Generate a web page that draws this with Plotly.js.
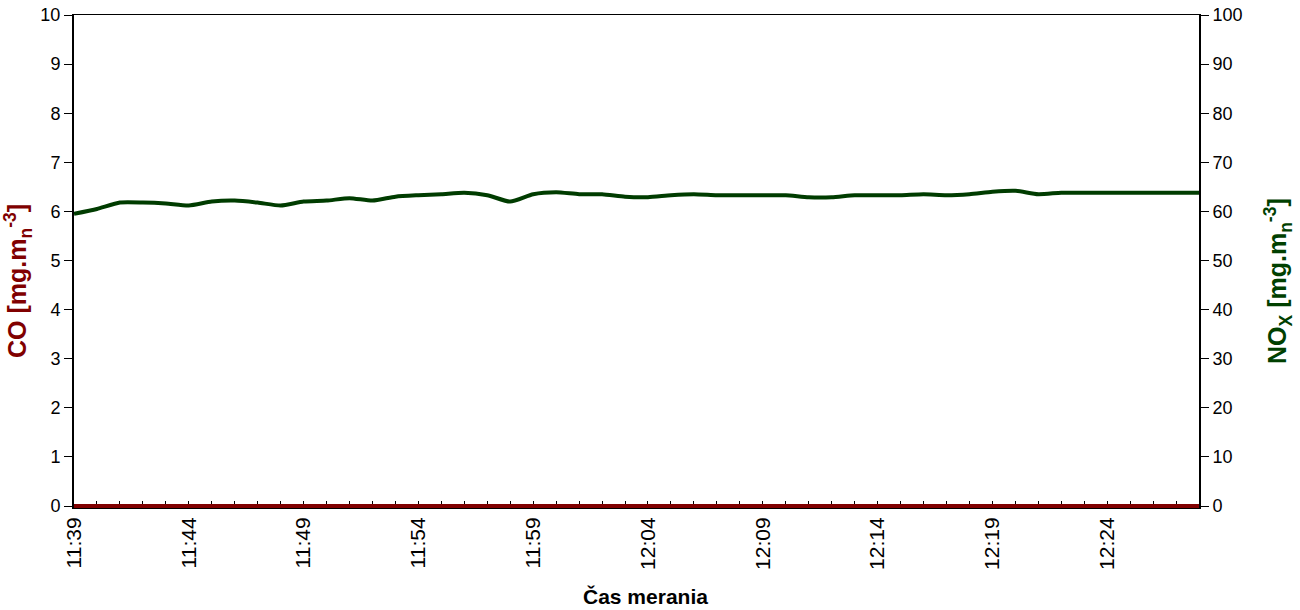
<!DOCTYPE html>
<html>
<head>
<meta charset="utf-8">
<script src="https://cdn.plot.ly/plotly-3.0.1.min.js"></script>
<style>html,body{margin:0;padding:0;background:#fff;}#chart{width:1300px;height:610px;}</style>
</head>
<body>
<div id="chart"></div>
<script>
var times = ["11:39","11:40","11:41","11:42","11:43","11:44","11:45","11:46","11:47","11:48",
             "11:49","11:50","11:51","11:52","11:53","11:54","11:55","11:56","11:57","11:58",
             "11:59","12:00","12:01","12:02","12:03","12:04","12:05","12:06","12:07","12:08",
             "12:09","12:10","12:11","12:12","12:13","12:14","12:15","12:16","12:17","12:18",
             "12:19","12:20","12:21","12:22","12:23","12:24","12:25","12:26","12:27","12:28"];
var coValues = [0,0,0,0,0,0,0,0,0,0, 0,0,0,0,0,0,0,0,0,0, 0,0,0,0,0,0,0,0,0,0,
                0,0,0,0,0,0,0,0,0,0, 0,0,0,0,0,0,0,0,0,0];
var noxValues = [59.5,60.5,61.8,61.8,61.6,61.2,62.0,62.2,61.8,61.2,
                 62.0,62.2,62.7,62.2,63.0,63.3,63.5,63.8,63.3,62.0,
                 63.5,63.9,63.5,63.5,63.0,62.9,63.3,63.5,63.3,63.3,
                 63.3,63.3,62.9,62.9,63.3,63.3,63.3,63.5,63.3,63.5,
                 64.0,64.2,63.5,63.8,63.8,63.8,63.8,63.8,63.8,63.8];
var xTitle = "<b>Čas merania</b>";
var coTitle = "<b>CO [mg.m<sub>n</sub><sup>-3</sup>]</b>";
var noxTitle = "<b>NO<sub>X</sub> [mg.m<sub>n</sub><sup>-3</sup>]</b>";
var labelEvery = 5;
var tickText = times.map(function(t,i){ return i % labelEvery === 0 && i < times.length-1 ? t : ""; });

var font = "Liberation Sans, Arial, sans-serif";
var traces = [
  {x: times, y: noxValues, yaxis: "y2", type: "scatter", mode: "lines",
   line: {color: "#003c00", width: 4, shape: "spline", smoothing: 0.6}, hoverinfo: "x+y"},
  {x: times, y: coValues, type: "scatter", mode: "lines",
   line: {color: "#800000", width: 4}, hoverinfo: "x+y"}
];
var layout = {
  width: 1300, height: 610,
  margin: {l: 74, r: 101, t: 15, b: 102},
  paper_bgcolor: "#fff", plot_bgcolor: "#fff",
  showlegend: false,
  font: {family: font, size: 17, color: "#000"},
  xaxis: {
    type: "category", range: [0, times.length-1],
    tickvals: times, ticktext: tickText, tickangle: -90,
    ticks: "inside", ticklen: 7, tickwidth: 1, tickcolor: "#000",
    showline: true, linecolor: "#000", linewidth: 1, mirror: true,
    showgrid: false, zeroline: false, layer: "below traces",
    tickfont: {family: font, size: 21}
  },
  yaxis: {
    range: [-0.04, 10], dtick: 1, tick0: 0,
    ticks: "outside", ticklen: 8, tickwidth: 1, tickcolor: "#000",
    showline: true, linecolor: "#000", linewidth: 2,
    showgrid: false, zeroline: false, layer: "below traces",
    tickfont: {family: font, size: 18}
  },
  yaxis2: {
    overlaying: "y", side: "right",
    range: [-0.4, 100], dtick: 10, tick0: 0,
    ticks: "outside", ticklen: 8, tickwidth: 1, tickcolor: "#000",
    showline: true, linecolor: "#000", linewidth: 2,
    showgrid: false, zeroline: false, layer: "below traces",
    tickfont: {family: font, size: 18}
  },
  annotations: [
    {text: xTitle, xref: "paper", yref: "paper", x: 0.5076, y: -0.1805,
     xanchor: "center", yanchor: "middle", showarrow: false,
     font: {family: font, size: 21, color: "#000"}},
    {text: coTitle, xref: "paper", yref: "paper", x: -0.0498, y: 0.4604, textangle: -90,
     xanchor: "center", yanchor: "middle", showarrow: false,
     font: {family: font, size: 25, color: "#800000"}},
    {text: noxTitle, xref: "paper", yref: "paper", x: 1.0702, y: 0.4604, textangle: -90,
     xanchor: "center", yanchor: "middle", showarrow: false,
     font: {family: font, size: 25, color: "#004000"}}
  ]
};
Plotly.newPlot("chart", traces, layout, {displayModeBar: false, staticPlot: true});
</script>
</body>
</html>
